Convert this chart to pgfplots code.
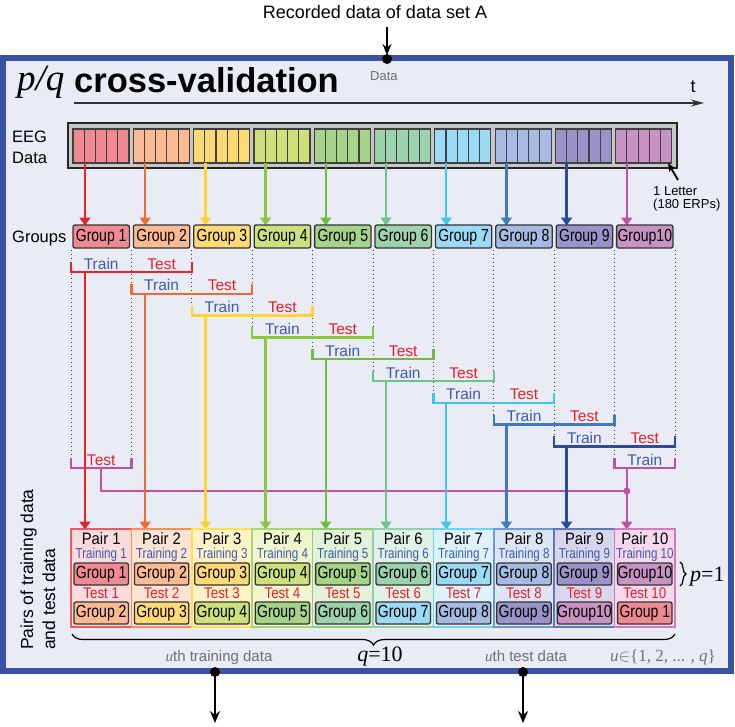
\documentclass[border=0pt]{standalone}
\usepackage{pgfplots}
\pgfplotsset{compat=1.18}
\usetikzlibrary{arrows.meta,decorations.pathreplacing}
\usepackage{graphicx}
\usepackage{fontspec}
\setmainfont{Liberation Sans}
\newfontfamily\serif{Liberation Serif}
\newcommand\fs[1]{\fontsize{#1}{#1}\selectfont}
\newcommand\gname[1]{\ifnum#1=10 Group10\else Group #1\fi}
% group fills
\definecolor{g1}{HTML}{F08A92}\definecolor{g2}{HTML}{FBBA92}\definecolor{g3}{HTML}{FEDA76}
\definecolor{g4}{HTML}{CDE07A}\definecolor{g5}{HTML}{A5D488}\definecolor{g6}{HTML}{9CD2AC}
\definecolor{g7}{HTML}{9BDAF5}\definecolor{g8}{HTML}{A6BBE2}\definecolor{g9}{HTML}{9A93C9}
\definecolor{g10}{HTML}{C893C4}
% vivid
\definecolor{v1}{HTML}{E8232A}\definecolor{v2}{HTML}{F26A2C}\definecolor{v3}{HTML}{FFD22C}
\definecolor{v4}{HTML}{8DC63F}\definecolor{v5}{HTML}{6CBD45}\definecolor{v6}{HTML}{6DC28D}
\definecolor{v7}{HTML}{3DC5F0}\definecolor{v8}{HTML}{4079C0}\definecolor{v9}{HTML}{2E4A9B}
\definecolor{v10}{HTML}{C24FA2}
% pair fills
\definecolor{p1}{HTML}{FADADD}\definecolor{p2}{HTML}{FDE3D2}\definecolor{p3}{HTML}{FFF3C6}
\definecolor{p4}{HTML}{F0F5CD}\definecolor{p5}{HTML}{E2F1D7}\definecolor{p6}{HTML}{E0F1E7}
\definecolor{p7}{HTML}{DDF2FB}\definecolor{p8}{HTML}{DCE5F4}\definecolor{p9}{HTML}{D8D6EC}
\definecolor{p10}{HTML}{F5D8EE}
\definecolor{frameblue}{HTML}{3852A4}
\definecolor{bgc}{HTML}{E9EBF5}
\definecolor{trainblue}{HTML}{3E5BA9}
\definecolor{testred}{HTML}{E8202A}
\definecolor{txtgray}{HTML}{707070}

\newcommand\pair[2]{%
 \draw[draw=v#1!75!white, fill=p#1, line width=1.5pt] ({71+60.4*(#1-1)},529) rectangle ({71+60.4*#1},627);
 \node[anchor=base, inner sep=0] at ({71+60.4*(#1-0.5)},544.5) {\fs{16.5}\scalebox{0.9}[1]{Pair #1}};
 \node[anchor=base, inner sep=0, text=trainblue] at ({71+60.4*(#1-0.5)},558) {\fs{14.5}\scalebox{0.8}[1]{Training #1}};
 \draw[fill=g#1, draw=black!80, line width=1.3pt, rounded corners=2pt] ({71+60.4*(#1-1)+3},563) rectangle ({71+60.4*#1-3},585);
 \node[inner sep=0] at ({71+60.4*(#1-0.5)},574) {\fs{17.5}\scalebox{0.8}[1]{\gname{#1}}};
 \node[anchor=base, inner sep=0, text=testred] at ({71+60.4*(#1-0.5)},598) {\fs{15.5}\scalebox{0.86}[1]{Test #1}};
 \draw[fill=g#2, draw=black!80, line width=1.3pt, rounded corners=2pt] ({71+60.4*(#1-1)+3},602) rectangle ({71+60.4*#1-3},624);
 \node[inner sep=0] at ({71+60.4*(#1-0.5)},613) {\fs{17.5}\scalebox{0.8}[1]{\gname{#2}}};
}

\begin{document}
\begin{tikzpicture}
\begin{axis}[hide axis, scale only axis, width=735pt, height=726pt,
  xmin=0, xmax=735, ymin=0, ymax=726, y dir=reverse, clip=false]
\addplot[draw=none] coordinates {(0,0) (735,726)};
% frame
\draw[line width=6pt, draw=frameblue, fill=bgc] (3,58) rectangle (731,671);
% top input
\node[anchor=base, inner sep=0] at (375,18) {\fs{18}Recorded data of data set A};
\draw[line width=1.5pt, -{Stealth[length=11pt,width=9pt]}] (387,27) -- (387,55);
\fill (387,59) circle (5pt);
\node[anchor=base west, inner sep=0, text=txtgray] at (370,80) {\fs{13}Data};
% title
\node[anchor=base west, inner sep=0] at (17,90) {\serif\itshape\fs{37}p/q};
\node[anchor=base west, inner sep=0] at (74,92) {\bfseries\fs{34.5}cross-validation};
% timeline
\draw[line width=1.2pt, draw=black!80, -{Stealth[length=13pt,width=7pt]}] (74,103) -- (704,103);
\node[anchor=base, inner sep=0] at (693,92) {\fs{18}t};
% EEG label
\node[anchor=base west, inner sep=0] at (12,142) {\fs{16.5}EEG};
\node[anchor=base west, inner sep=0] at (12,163) {\fs{16.5}Data};
% EEG strip
\draw[line width=2.8pt, fill=black!22, draw=black!85] (68,123) rectangle (677,168);
\pgfplotsinvokeforeach{1,...,10}{
 \draw[fill=g#1, draw=black!75, line width=1.2pt] ({73+60.3*(#1-1)},129) rectangle ({129+60.3*(#1-1)},163);
 \draw[draw=black!75, line width=1.1pt] ({84.2+60.3*(#1-1)},129) -- ({84.2+60.3*(#1-1)},163);
 \draw[draw=black!75, line width=1.1pt] ({95.4+60.3*(#1-1)},129) -- ({95.4+60.3*(#1-1)},163);
 \draw[draw=black!75, line width=1.1pt] ({106.6+60.3*(#1-1)},129) -- ({106.6+60.3*(#1-1)},163);
 \draw[draw=black!75, line width=1.1pt] ({117.8+60.3*(#1-1)},129) -- ({117.8+60.3*(#1-1)},163);
}
% 1 letter
\draw[line width=1.8pt, -{Stealth[length=9pt,width=7pt]}] (678,180) -- (668,163);
\node[anchor=base west, inner sep=0] at (653,195) {\fs{13}1 Letter};
\node[anchor=base west, inner sep=0] at (653,208) {\fs{13}(180 ERPs)};
% Groups label
\node[anchor=base west, inner sep=0] at (12,242) {\fs{16.5}Groups};
% dotted lines
\draw[black!80, line width=1pt, dash pattern=on 1pt off 3pt] (71,250) -- (71,458);
\draw[black!80, line width=1pt, dash pattern=on 1pt off 3pt] (131.4,250) -- (131.4,458);
\draw[black!80, line width=1pt, dash pattern=on 1pt off 3pt] (675,250) -- (675,458);
\pgfplotsinvokeforeach{2,...,9}{
 \draw[black!80, line width=1pt, dash pattern=on 1pt off 3pt] ({71+60.4*#1},250) -- ({71+60.4*#1},{262+21.8*#1});
}
% arrows EEG -> groups and group boxes
\pgfplotsinvokeforeach{1,...,10}{
 \draw[v#1, line width=2.5pt, -{Triangle[width=11pt,length=8pt]}] ({85+60.2*(#1-1)},163) -- ({85+60.2*(#1-1)},225.5);
 \draw[fill=g#1, draw=black!80, line width=1.3pt, rounded corners=2pt] ({71+60.4*(#1-1)+2},225) rectangle ({71+60.4*#1-2},248);
 \node[inner sep=0] at ({71+60.4*(#1-0.5)},237) {\fs{17.5}\scalebox{0.8}[1]{\gname{#1}}};
}
% magenta test bracket and link
\draw[v10, line width=2.5pt] (101,468.2) -- (101,491) -- (626.8,491);
\fill[v10] (626.8,491) circle (3.5pt);
\draw[v10, line width=2.5pt] (71,458) -- (71,468.2) -- (131.4,468.2) -- (131.4,458);
\node[anchor=base, inner sep=0, text=testred] at (101.2,465) {\fs{15.5}Test};
% brackets 1..9
\pgfplotsinvokeforeach{1,...,9}{
 \draw[v#1, line width=2.5pt] ({71+60.4*(#1-1)},{262+21.8*(#1-1)}) -- ({71+60.4*(#1-1)},{272+21.8*(#1-1)}) -- ({71+60.4*(#1+1)},{272+21.8*(#1-1)}) -- ({71+60.4*(#1+1)},{262+21.8*(#1-1)});
 \node[anchor=base, inner sep=0, text=trainblue] at ({71+60.4*(#1-0.5)},{269+21.8*(#1-1)}) {\fs{15.5}Train};
 \node[anchor=base, inner sep=0, text=testred] at ({71+60.4*(#1+0.5)},{269+21.8*(#1-1)}) {\fs{15.5}Test};
 \draw[v#1, line width=2.5pt, -{Triangle[width=11pt,length=8pt]}] ({85+60.2*(#1-1)},{272+21.8*(#1-1)}) -- ({85+60.2*(#1-1)},529.5);
}
% bracket 10
\draw[v10, line width=2.5pt] (614.6,458) -- (614.6,468.2) -- (675,468.2) -- (675,458);
\node[anchor=base, inner sep=0, text=trainblue] at (644.8,465) {\fs{15.5}Train};
\draw[v10, line width=2.5pt, -{Triangle[width=11pt,length=8pt]}] (626.8,468.2) -- (626.8,529.5);
% pairs
\pair{1}{2}\pair{2}{3}\pair{3}{4}\pair{4}{5}\pair{5}{6}
\pair{6}{7}\pair{7}{8}\pair{8}{9}\pair{9}{10}\pair{10}{1}
% rotated label
\node[rotate=90, anchor=base west, inner sep=0] at (33,650) {\fs{17.5}Pairs of training data};
\node[rotate=90, anchor=base west, inner sep=0] at (55,650) {\fs{17.5}and test data};
% braces
\draw[line width=1.2pt, decorate, decoration={brace, amplitude=11pt}] (675,634) -- (72,634);
\draw[line width=1.2pt, decorate, decoration={brace, amplitude=6pt}] (680,562) -- (680,586);
\node[anchor=base west, inner sep=0] at (690,581) {\serif\fs{22}\textit{p}=1};
% bottom texts
\node[anchor=base, inner sep=0, text=txtgray] at (219,661) {\fs{15}{\serif\itshape u}th training data};
\node[anchor=base, inner sep=0] at (380,661) {\serif\fs{22}\textit{q}=10};
\node[anchor=base, inner sep=0, text=txtgray] at (526,661) {\fs{15}{\serif\itshape u}th test data};
\node[anchor=base, inner sep=0, text=txtgray] at (663,661) {\serif\fs{17}\textit{u}$\in$\{1, 2, ... , \textit{q}\}};
% bottom arrows
\fill (215,672) circle (5pt);
\draw[line width=1.5pt, -{Stealth[length=12pt,width=10pt]}] (215,672) -- (215,723);
\fill (523,672) circle (5pt);
\draw[line width=1.5pt, -{Stealth[length=12pt,width=10pt]}] (523,672) -- (523,723);
\end{axis}
\end{tikzpicture}
\end{document}
